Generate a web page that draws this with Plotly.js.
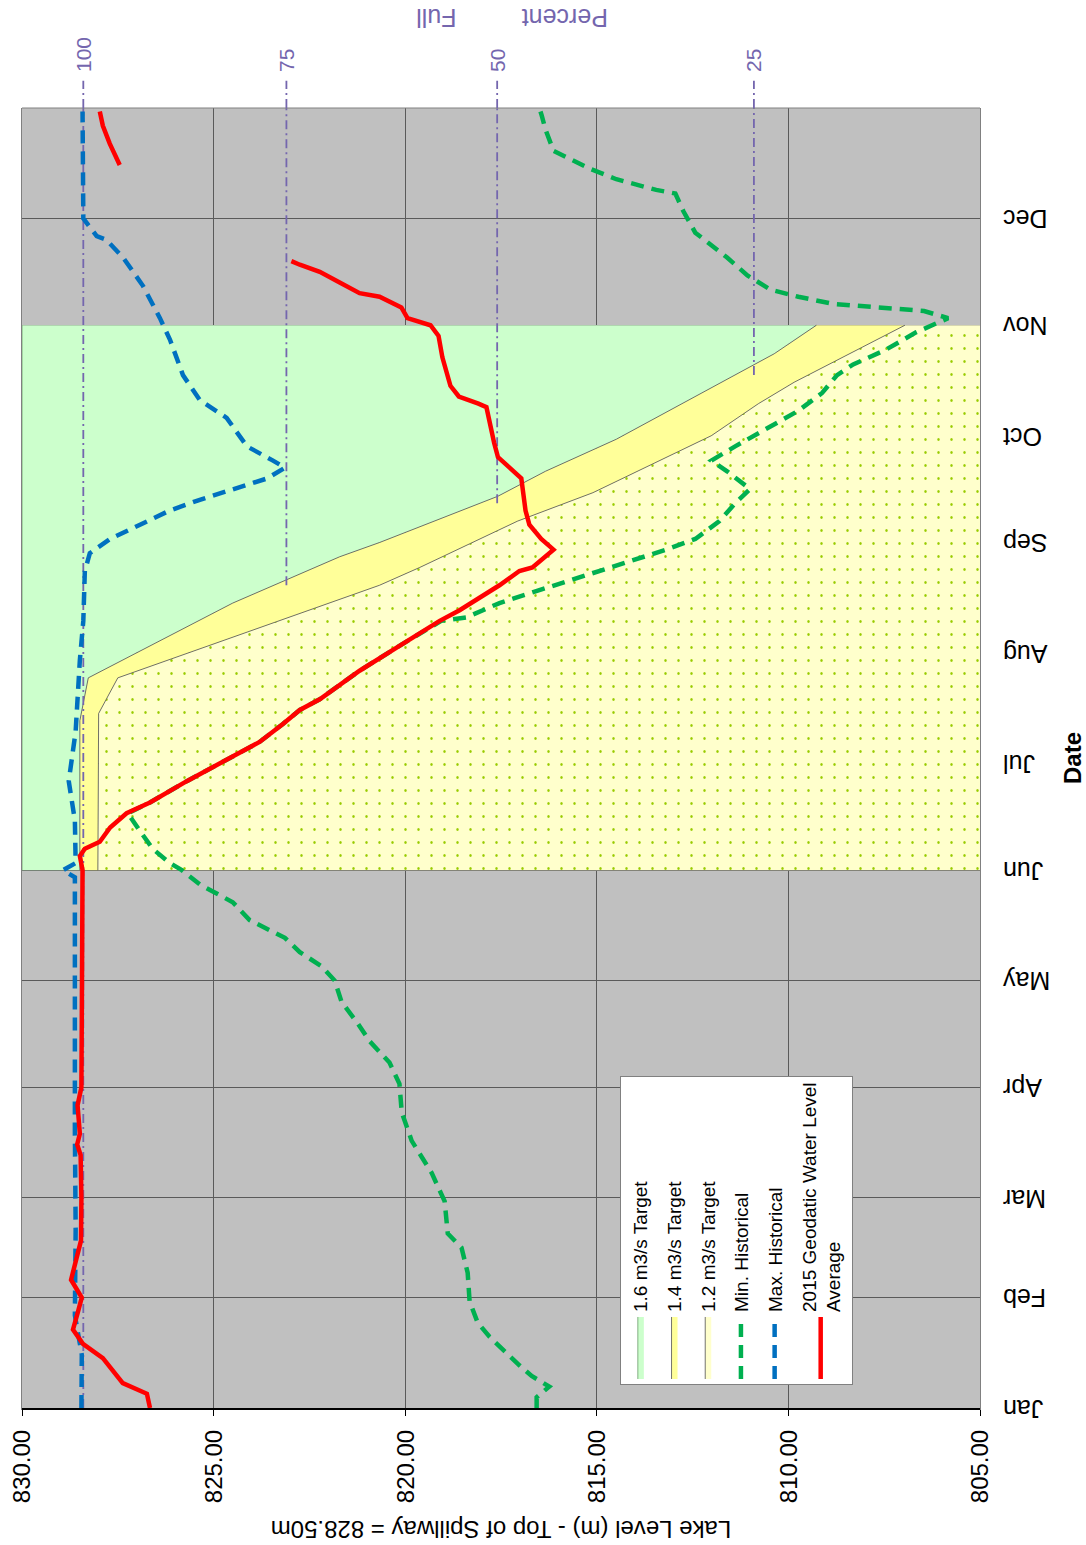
<!DOCTYPE html>
<html><head><meta charset="utf-8">
<script src="https://cdn.plot.ly/plotly-3.0.1.min.js"></script>
<style>
html,body{margin:0;padding:0;width:1086px;height:1545px;overflow:hidden;background:#fff;}
#rot{position:absolute;left:0;top:0;width:1545px;height:1086px;transform-origin:0 0;transform:translate(0px,1545px) rotate(-90deg);}
#chart{width:1545px;height:1086px;}
</style></head><body>
<div id="rot"><div id="chart"></div></div>
<script>
// ---- axis ticks ----
const monthTicks = ['2015-01-01','2015-02-01','2015-03-01','2015-04-01','2015-05-01','2015-06-01','2015-07-01','2015-08-01','2015-09-01','2015-10-01','2015-11-01','2015-12-01'];
const monthLabels = ['Jan','Feb','Mar','Apr','May','Jun','Jul','Aug','Sep','Oct','Nov','Dec'];
const levelTicks = [805,810,815,820,825,830];

// ---- target bands ----
const t16Dates = ['2015-06-01','2015-11-01'];
const t16Levels = [830,830];
const t14Dates = ['2015-06-01','2015-07-13','2015-07-25','2015-08-02','2015-08-15','2015-08-28','2015-09-01','2015-09-14','2015-09-21','2015-09-30','2015-10-15','2015-10-24','2015-11-01'];
const t14Levels = [828.49,828.49,828.27,826.84,824.50,821.71,820.67,817.58,816.34,814.49,811.91,810.37,809.27];
const t12Dates = ['2015-06-01','2015-07-15','2015-07-25','2015-08-20','2015-08-25','2015-09-07','2015-09-15','2015-10-01','2015-10-10','2015-10-16','2015-11-01'];
const t12Levels = [828.02,828.00,827.50,820.67,819.62,817.07,815.10,812.01,810.78,809.85,806.96];

// ---- Min. Historical ----
const minDates = ['2015-01-01','2015-01-04','2015-01-07','2015-01-10','2015-01-13','2015-01-17','2015-01-21','2015-01-25','2015-01-31','2015-02-08','2015-02-15','2015-02-19','2015-02-28','2015-03-08','2015-03-17','2015-03-25','2015-04-02','2015-04-08','2015-04-14','2015-04-19','2015-04-25','2015-05-01','2015-05-05','2015-05-09','2015-05-13','2015-05-18','2015-05-23','2015-05-28','2015-06-01','2015-06-03','2015-06-07','2015-06-12','2015-06-15','2015-06-17','2015-06-20','2015-06-26','2015-07-02','2015-07-07','2015-07-12','2015-07-16','2015-07-19','2015-07-27','2015-08-03','2015-08-10','2015-08-11','2015-08-15','2015-08-18','2015-08-21','2015-08-24','2015-08-27','2015-08-30','2015-09-02','2015-09-07','2015-09-12','2015-09-16','2015-09-21','2015-09-24','2015-09-28','2015-10-03','2015-10-08','2015-10-13','2015-10-18','2015-10-21','2015-10-25','2015-10-30','2015-11-03','2015-11-05','2015-11-06','2015-11-07','2015-11-09','2015-11-11','2015-11-15','2015-11-20','2015-11-27','2015-12-03','2015-12-08','2015-12-09','2015-12-12','2015-12-15','2015-12-20','2015-12-26','2015-12-30','2015-12-31'];
const minLevels = [816.57,816.57,816.24,816.70,817.02,817.41,817.80,818.11,818.32,818.37,818.53,818.89,818.97,819.31,819.83,820.09,820.15,820.41,820.93,821.24,821.66,821.84,822.18,822.75,823.14,824.06,824.50,825.36,825.83,826.14,826.59,826.92,827.10,827.24,826.66,825.70,824.66,823.80,823.20,822.75,822.23,821.19,820.15,819.06,818.40,817.54,816.68,815.79,814.93,814.07,813.19,812.43,811.80,811.39,811.00,811.60,812.01,811.39,810.58,809.74,809.12,808.73,808.31,807.48,806.67,805.83,806.46,807.79,808.83,809.74,810.47,811.07,811.60,812.43,812.74,812.95,813.45,814.49,815.19,816.13,816.34,816.44,816.47];

// ---- Max. Historical ----
const maxDates = ['2015-01-01','2015-01-16','2015-01-27','2015-02-20','2015-03-20','2015-04-20','2015-05-20','2015-05-30','2015-06-01','2015-06-03','2015-06-15','2015-06-26','2015-07-10','2015-07-30','2015-08-10','2015-08-24','2015-08-29','2015-09-02','2015-09-06','2015-09-10','2015-09-13','2015-09-16','2015-09-19','2015-09-22','2015-09-24','2015-09-28','2015-10-06','2015-10-11','2015-10-18','2015-10-28','2015-11-03','2015-11-12','2015-11-20','2015-11-25','2015-11-26','2015-12-01','2015-12-31'];
const maxLevels = [828.45,828.44,828.62,828.60,828.62,828.61,828.62,828.62,828.93,828.60,828.62,828.78,828.60,828.49,828.40,828.36,828.23,827.70,826.92,826.14,825.36,824.48,823.60,823.14,823.45,824.13,824.66,825.36,825.80,826.14,826.40,826.84,827.36,827.80,828.05,828.40,828.42];

// ---- 2015 Geodatic Water Level Average ----
const wlDates = ['2015-01-01','2015-01-05','2015-01-08','2015-01-15','2015-01-19','2015-01-23','2015-01-28','2015-02-01','2015-02-06','2015-02-13','2015-02-17','2015-03-01','2015-03-13','2015-03-16','2015-03-19','2015-03-27','2015-04-01','2015-04-20','2015-05-10','2015-06-01','2015-06-05','2015-06-07','2015-06-09','2015-06-13','2015-06-17','2015-06-20','2015-06-26','2015-07-02','2015-07-07','2015-07-12','2015-07-16','2015-07-19','2015-07-27','2015-08-03','2015-08-10','2015-08-13','2015-08-20','2015-08-24','2015-08-25','2015-08-30','2015-09-02','2015-09-06','2015-09-10','2015-09-19','2015-09-25','2015-09-29','2015-10-09','2015-10-10','2015-10-12','2015-10-15','2015-10-23','2015-10-29','2015-11-01','2015-11-03','2015-11-06','2015-11-09','2015-11-10','2015-11-13','2015-11-16','2015-11-18','2015-11-19','2015-12-01','2015-12-16','2015-12-22','2015-12-27','2015-12-31'];
const wlLevels = [826.66,826.74,827.37,827.89,828.41,828.67,828.54,828.44,828.72,828.54,828.46,828.45,828.47,828.56,828.49,828.55,828.45,828.44,828.44,828.42,828.49,828.36,827.97,827.70,827.27,826.66,825.70,824.66,823.80,823.20,822.75,822.23,821.19,820.15,819.10,818.58,817.54,817.02,816.68,816.13,816.45,816.76,816.86,816.97,817.58,817.68,817.88,818.09,818.60,818.82,819.03,819.13,819.34,819.94,820.10,820.67,821.19,821.71,822.23,822.75,822.97,null,827.45,827.71,827.89,827.97];

// ---- Percent Full reference lines ----
const pctLabels = ['100','75','50','25'];
const pctLevels = [828.4, 823.1, 817.6, 810.9];
const pctStart = ['2015-01-01','2015-08-20','2015-09-12','2015-10-18'];
const rangeEnd = '2016-01-01';

const FONT = 'Liberation Sans, Arial, Helvetica, sans-serif';
const PURPLE = '#7466ae';
const OUTLINE = '#505050';

const traces = [
  {name:'1.2 m3/s Target', x:t12Dates, y:t12Levels, type:'scatter', mode:'lines', fill:'tozeroy',
   line:{color:OUTLINE, width:0.8}, fillcolor:'#ffffcc',
   fillpattern:{shape:'.', bgcolor:'#ffffcc', fgcolor:'#99cc00', size:13, solidity:0.035, fillmode:'replace'},
   legendrank:3, legendgroup:'g3'},
  {name:'1.4 m3/s Target', x:t14Dates, y:t14Levels, type:'scatter', mode:'lines', fill:'tonexty',
   line:{color:OUTLINE, width:0.8}, fillcolor:'#ffff99', legendrank:2, legendgroup:'g2'},
  {name:'1.6 m3/s Target', x:t16Dates, y:t16Levels, type:'scatter', mode:'lines', fill:'tonexty',
   line:{color:'#6a9a6a', width:0.8}, fillcolor:'#ccffcc', legendrank:1, legendgroup:'g1'}
];
pctLevels.forEach((lv,i)=>{
  traces.push({x:[pctStart[i], rangeEnd], y:[lv, lv], type:'scatter', mode:'lines', showlegend:false,
    line:{color:PURPLE, width:1.8, dash:'9px,4px,2px,4px'}, hoverinfo:'skip', legendgroup:'pct'});
});
traces.push(
  {name:'Min. Historical', x:minDates, y:minLevels, type:'scatter', mode:'lines',
   line:{color:'#00b050', width:4.5, dash:'13px,8px'}, legendrank:4, legendgroup:'g4'},
  {name:'Max. Historical', x:maxDates, y:maxLevels, type:'scatter', mode:'lines',
   line:{color:'#0070c0', width:4.5, dash:'13px,8px'}, legendrank:5, legendgroup:'g5'},
  {name:'2015 Geodatic Water Level<br>Average', x:wlDates, y:wlLevels, type:'scatter', mode:'lines',
   line:{color:'#ff0000', width:4.5}, connectgaps:false, legendrank:6, legendgroup:'g6'}
);

const shapes = [
  {type:'line', xref:'paper', yref:'paper', x0:1, x1:1, y0:0, y1:1, line:{color:'#808080', width:1}}
];
const annotations = [];
pctLevels.forEach((lv,i)=>{
  shapes.push({type:'line', xref:'paper', yref:'y', x0:1, x1:1.021, y0:lv, y1:lv,
    line:{color:PURPLE, width:1.8, dash:'9px,4px,2px,4px'}});
  annotations.push({xref:'paper', yref:'y', x:1.026, y:lv, xanchor:'left', yanchor:'middle',
    text:pctLabels[i], showarrow:false, font:{family:FONT, size:21, color:PURPLE}});
});
annotations.push(
  {xref:'paper', yref:'paper', x:1.069, y:0.433, text:'Percent', textangle:-90, showarrow:false,
   xanchor:'center', yanchor:'middle', font:{family:FONT, size:25, color:PURPLE}},
  {xref:'paper', yref:'paper', x:1.069, y:0.567, text:'Full', textangle:-90, showarrow:false,
   xanchor:'center', yanchor:'middle', font:{family:FONT, size:25, color:PURPLE}}
);

const layout = {
  width:1545, height:1086,
  margin:{l:137, r:108, t:22, b:106},
  paper_bgcolor:'#ffffff', plot_bgcolor:'#c0c0c0',
  font:{family:FONT, color:'#000'},
  showlegend:true,
  xaxis:{
    type:'date', range:['2015-01-01', rangeEnd],
    tickvals:monthTicks, ticktext:monthLabels, tickangle:-90,
    tickfont:{family:FONT, size:25, color:'#000'}, ticklabelstandoff:12,
    showgrid:true, gridcolor:'#5a5a5a', gridwidth:1,
    showline:true, linecolor:'#808080', linewidth:1, mirror:true,
    zeroline:false, ticks:'',
    title:{text:'<b>Date</b>', font:{family:FONT, size:24, color:'#000'}, standoff:14}
  },
  yaxis:{
    range:[805,830], tickvals:levelTicks, tickformat:'.2f',
    tickfont:{family:FONT, size:24, color:'#000'}, ticklabelstandoff:9,
    ticks:'outside', ticklen:6, tickcolor:'#000', tickwidth:1,
    showgrid:true, gridcolor:'#5a5a5a', gridwidth:1,
    showline:true, linecolor:'#000', linewidth:2, mirror:false, zeroline:false,
    title:{text:'Lake Level (m) - Top of Spillway = 828.50m', font:{family:FONT, size:24, color:'#000'}, standoff:10}
  },
  legend:{
    x:0.0177, y:0.3758, xanchor:'left', yanchor:'top',
    bgcolor:'#ffffff', bordercolor:'#808080', borderwidth:1,
    font:{family:FONT, size:19, color:'#000'},
    tracegroupgap:6, itemwidth:62, traceorder:'grouped'
  },
  shapes:shapes,
  annotations:annotations
};

Plotly.newPlot('chart', traces, layout, {staticPlot:true, displayModeBar:false});
</script>
</body></html>
